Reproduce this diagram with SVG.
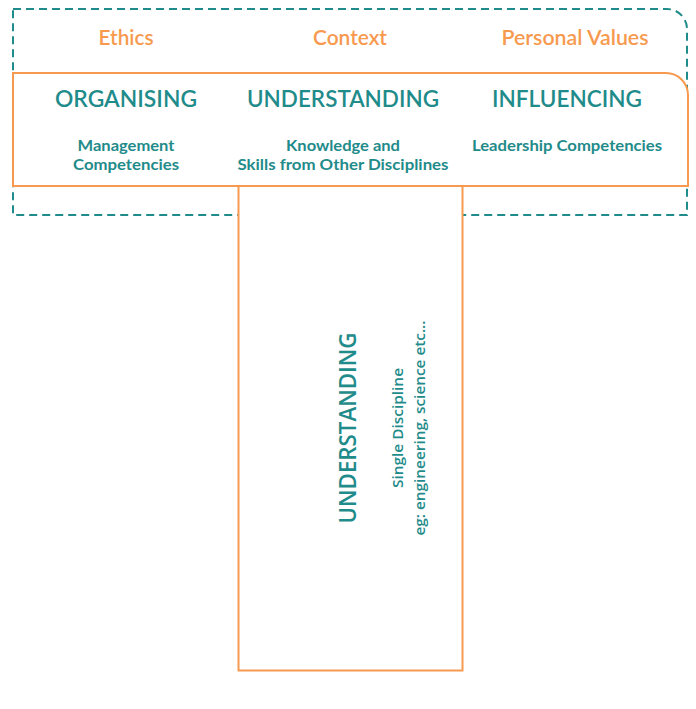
<svg xmlns="http://www.w3.org/2000/svg" width="696" height="709" viewBox="0 0 696 709">
<style>
.bg{fill:#ffffff}
.dash{fill:none;stroke:#1f8b8a;stroke-width:2;stroke-dasharray:8 5}
.box{fill:#ffffff;stroke:#f79a4f;stroke-width:2}
.top{font-family:Lato,"Open Sans",sans-serif;font-size:21.5px;font-weight:600;fill:#f79a4f;text-anchor:middle}
.head{font-family:Lato,"Open Sans",sans-serif;font-size:22.5px;font-weight:600;fill:#1f8b8a;text-anchor:middle}
.sub{font-family:Lato,"Open Sans",sans-serif;font-size:16px;font-weight:700;fill:#1f8b8a;text-anchor:middle}
.vhead{font-family:"Open Sans",sans-serif;font-size:22.5px;font-weight:600;fill:#1f8b8a;text-anchor:middle}
.vsub{font-family:"Open Sans",sans-serif;font-size:15px;font-weight:600;fill:#1f8b8a;text-anchor:middle}
</style>
<rect class="bg" x="0" y="0" width="696" height="709"/>
<g id="outer-values">
<path class="dash" d="M13 9 H667 A20 20 0 0 1 687 29 V215 H13 Z"/>
<text class="top" x="126" y="45" textLength="55" lengthAdjust="spacingAndGlyphs">Ethics</text>
<text class="top" x="350" y="45" textLength="74" lengthAdjust="spacingAndGlyphs">Context</text>
<text class="top" x="575" y="45" textLength="147" lengthAdjust="spacingAndGlyphs">Personal Values</text>
</g>
<g id="stem">
<rect class="box" x="238.5" y="186" width="224" height="484.5"/>
<text class="vhead" transform="translate(356 428) rotate(-90)" textLength="191" lengthAdjust="spacingAndGlyphs">UNDERSTANDING</text>
<text class="vsub" transform="translate(403 428) rotate(-90)" textLength="120" lengthAdjust="spacingAndGlyphs">Single Discipline</text>
<text class="vsub" transform="translate(425 428) rotate(-90)" textLength="215" lengthAdjust="spacingAndGlyphs">eg: engineering, science etc...</text>
</g>
<g id="crossbar">
<path class="box" d="M13 73 H666 A22 22 0 0 1 688 95 V186 H13 Z"/>
</g>
<g id="organising">
<text class="head" x="126" y="107" textLength="142" lengthAdjust="spacingAndGlyphs">ORGANISING</text>
<text class="sub" x="126" y="151" textLength="97" lengthAdjust="spacingAndGlyphs">Management</text>
<text class="sub" x="126" y="170" textLength="106" lengthAdjust="spacingAndGlyphs">Competencies</text>
</g>
<g id="understanding">
<text class="head" x="343" y="107" textLength="192" lengthAdjust="spacingAndGlyphs">UNDERSTANDING</text>
<text class="sub" x="343" y="151" textLength="114" lengthAdjust="spacingAndGlyphs">Knowledge and</text>
<text class="sub" x="343" y="170" textLength="211" lengthAdjust="spacingAndGlyphs">Skills from Other Disciplines</text>
</g>
<g id="influencing">
<text class="head" x="567" y="107" textLength="150" lengthAdjust="spacingAndGlyphs">INFLUENCING</text>
<text class="sub" x="567" y="151" textLength="190" lengthAdjust="spacingAndGlyphs">Leadership Competencies</text>
</g>
</svg>
